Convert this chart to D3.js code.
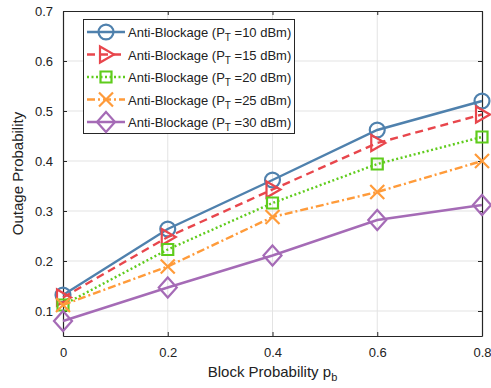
<!DOCTYPE html>
<meta charset="utf-8">
<style>
body { margin: 0; background: #fff; }
text { font-family: "Liberation Sans", Arial, sans-serif; fill: #222; }
.grid line { stroke: #e3e3e3; stroke-width: 1; }
</style>
<body>
<svg width=491 height=388></svg>
</body>
<script src="https://d3js.org/d3.v7.min.js"></script>
<script>
const pb = [0, 0.2, 0.4, 0.6, 0.8]
const pt10 = [0.132, 0.264, 0.362, 0.462, 0.52]
const pt15 = [0.127, 0.248, 0.343, 0.436, 0.493]
const pt20 = [0.112, 0.223, 0.316, 0.394, 0.448]
const pt25 = [0.112, 0.189, 0.288, 0.338, 0.40]
const pt30 = [0.08, 0.147, 0.211, 0.282, 0.312]
const xTicks = [0, 0.2, 0.4, 0.6, 0.8]
const yTicks = [0.1, 0.2, 0.3, 0.4, 0.5, 0.6, 0.7]

const series = [
  {name: "10", values: pt10, color: "#4f81ad", dash: null, marker: "circle"},
  {name: "15", values: pt15, color: "#e8464c", dash: "8,5", marker: "triangle"},
  {name: "20", values: pt20, color: "#5fcc1c", dash: "2,2.5", marker: "square"},
  {name: "25", values: pt25, color: "#ff9b3a", dash: "8,3,2,3", marker: "cross"},
  {name: "30", values: pt30, color: "#a56bb6", dash: null, marker: "diamond"}
]

const svg = d3.select("svg")
const m = {left: 63, right: 482, top: 11, bottom: 336}
const x = d3.scaleLinear().domain([0, 0.8]).range([m.left, m.right])
const y = d3.scaleLinear().domain([0.05, 0.7]).range([m.bottom, m.top])

// grid
const grid = svg.append("g").attr("class", "grid")
grid.selectAll(".gx").data(xTicks.slice(1, -1)).enter().append("line")
  .attr("x1", d => x(d)).attr("x2", d => x(d)).attr("y1", m.top).attr("y2", m.bottom)
grid.selectAll(".gy").data(yTicks.slice(0, -1)).enter().append("line")
  .attr("y1", d => y(d)).attr("y2", d => y(d)).attr("x1", m.left).attr("x2", m.right)

// axes
const axB = svg.append("g").attr("transform", `translate(0,${m.bottom})`)
  .call(d3.axisBottom(x).tickValues(xTicks).tickFormat(d3.format("")).tickSizeInner(-4).tickSizeOuter(0).tickPadding(12))
const axT = svg.append("g").attr("transform", `translate(0,${m.top})`)
  .call(d3.axisTop(x).tickValues(xTicks).tickFormat("").tickSizeInner(-4).tickSizeOuter(0))
const axL = svg.append("g").attr("transform", `translate(${m.left},0)`)
  .call(d3.axisLeft(y).tickValues(yTicks).tickFormat(d3.format(".1f")).tickSizeInner(-4).tickSizeOuter(0).tickPadding(10))
const axR = svg.append("g").attr("transform", `translate(${m.right},0)`)
  .call(d3.axisRight(y).tickValues(yTicks).tickFormat("").tickSizeInner(-4).tickSizeOuter(0))
for (const a of [axB, axT, axL, axR]) {
  a.select(".domain").attr("stroke", "#262626").attr("stroke-width", 1.2)
  a.selectAll(".tick line").attr("stroke", "#262626")
  a.selectAll("text").attr("font-size", 13).attr("fill", "#222")
    .attr("font-family", '"Liberation Sans", Arial, sans-serif')
}

// axis labels
svg.append("text").attr("x", x(0.4)).attr("y", 377).attr("text-anchor", "middle")
  .attr("font-size", 15).html('Block Probability p<tspan dy="4" font-size="11">b</tspan>')
svg.append("text").attr("transform", `translate(23,${(m.top + m.bottom) / 2}) rotate(-90)`)
  .attr("text-anchor", "middle").attr("font-size", 15).text("Outage Probability")

function drawMarker(g, type, color) {
  const s = g.append("path").attr("fill", "none").attr("stroke", color).attr("stroke-width", 2.2)
  if (type === "circle") s.attr("d", d3.symbol(d3.symbolCircle, 175)())
  if (type === "square") s.attr("d", "M-5.5,-5.5H5.5V5.5H-5.5Z")
  if (type === "triangle") s.attr("d", "M-6,-8L8,0L-6,8Z")
  if (type === "cross") s.attr("d", "M-7,-7L7,7M-7,7L7,-7")
  if (type === "diamond") s.attr("d", "M0,-10L9,0L0,10L-9,0Z")
}

const line = d3.line().x((d, i) => x(pb[i])).y(d => y(d))
series.forEach(s => {
  svg.append("path").datum(s.values).attr("d", line)
    .attr("fill", "none").attr("stroke", s.color).attr("stroke-width", 2.4)
    .attr("stroke-dasharray", s.dash)
  s.values.forEach((v, i) => {
    const g = svg.append("g").attr("transform", `translate(${x(pb[i])},${y(v)})`)
    drawMarker(g, s.marker, s.color)
  })
})

// legend
const lg = svg.append("g")
lg.append("rect").attr("x", 83.5).attr("y", 19.5).attr("width", 211).attr("height", 114)
  .attr("fill", "#fff").attr("stroke", "#262626").attr("stroke-width", 1)
series.forEach((s, i) => {
  const yy = 32 + i * 22.5
  lg.append("line").attr("x1", 87).attr("x2", 125).attr("y1", yy).attr("y2", yy)
    .attr("stroke", s.color).attr("stroke-width", 2.4).attr("stroke-dasharray", s.dash)
  const g = lg.append("g").attr("transform", `translate(106,${yy})`)
  drawMarker(g, s.marker, s.color)
  lg.append("text").attr("x", 128).attr("y", yy + 5).attr("font-size", 13)
    .html(`Anti-Blockage (P<tspan dy="4" font-size="10">T</tspan><tspan dy="-4"> =${s.name} dBm)</tspan>`)
})
</script>
